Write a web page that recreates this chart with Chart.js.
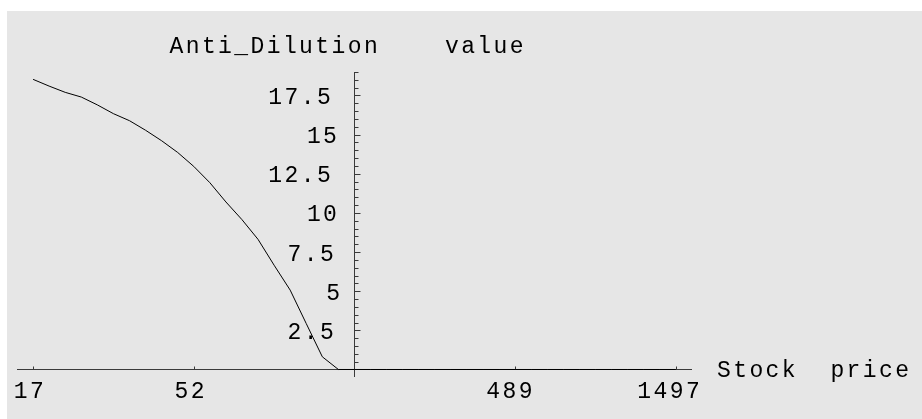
<!DOCTYPE html>
<html>
<head>
<meta charset="utf-8">
<script src="https://cdn.jsdelivr.net/npm/chart.js@4"></script>
<style>
  html, body { margin: 0; padding: 0; background: #fff; overflow: hidden; }
  canvas { display: block; }
</style>
</head>
<body>
<canvas id="c" width="922" height="419"></canvas>
<script>
// Stock price grid (log-spaced steps from 17 to 1497)
const prices = [17, 19.01, 21.27, 23.79, 26.60, 29.75, 33.28, 37.22, 41.63, 46.56,
  52.08, 58.25, 65.15, 72.86, 81.49, 91.15, 101.94, 114.02, 127.53, 142.63,
  159.53, 178.43, 199.57, 223.21, 249.65, 279.22, 312.30, 349.29, 390.67, 436.95,
  488.71, 546.59, 611.33, 683.75, 764.74, 855.33, 956.65, 1069.97, 1196.72, 1338.49,
  1497];
// Anti-dilution value at each price
const antiDilution = [18.53, 18.10, 17.70, 17.40, 16.90, 16.34, 15.89, 15.28, 14.61, 13.86,
  12.97, 11.93, 10.70, 9.57, 8.31, 6.66, 5.07, 2.93, 0.81, 0,
  0, 0, 0, 0, 0, 0, 0, 0, 0, 0,
  0, 0, 0, 0, 0, 0, 0, 0, 0, 0,
  0];

const xTickValues = [17, 52.08, 488.71, 1497];
const xTickLabels = ['17', '52', '489', '1497'];
const yTickValues = [2.5, 5, 7.5, 10, 12.5, 15, 17.5];
const yTickLabels = ['2.5', '5', '7.5', '10', '12.5', '15', '17.5'];
const yMinorStep = 0.5;
const axisCrossPrice = 159.53;   // the value axis crosses the price axis here
const xTitle = 'Stock  price';
const yTitle = 'Anti_Dilution    value';

const FONT = '23px "Liberation Mono", "Courier New", monospace';
const SPACING = '2.4px';
const CELL = 19.3;   // layout width per character used to place tick labels

const axesPlugin = {
  id: 'crossedAxes',
  beforeDraw(chart) {
    const ctx = chart.ctx;
    ctx.save();
    ctx.fillStyle = '#ffffff';
    ctx.fillRect(0, 0, chart.width, chart.height);
    ctx.fillStyle = '#e6e6e6';
    ctx.fillRect(7, 11, chart.width - 7, chart.height - 11);
    ctx.restore();
  },
  beforeDatasetsDraw(chart) {
    const { ctx, scales: { x, y } } = chart;
    const ax = Math.round(x.getPixelForValue(axisCrossPrice)) + 0.5;
    const ay = Math.round(y.getPixelForValue(0)) + 0.5;
    ctx.save();
    ctx.strokeStyle = '#3a3a3a';
    ctx.lineWidth = 1;
    ctx.beginPath();
    ctx.moveTo(x.left, ay); ctx.lineTo(x.right, ay);
    ctx.moveTo(ax, y.top); ctx.lineTo(ax, y.bottom);
    xTickValues.forEach(v => {
      const px = Math.round(x.getPixelForValue(v)) + 0.5;
      ctx.moveTo(px, ay); ctx.lineTo(px, ay - 3);
    });
    for (let i = 1; i * yMinorStep <= y.max + 1e-9; i++) {
      const v = i * yMinorStep;
      const py = Math.round(y.getPixelForValue(v)) + 0.5;
      const len = yTickValues.includes(v) ? 6 : 4;
      ctx.moveTo(ax, py); ctx.lineTo(ax + len, py);
    }
    ctx.stroke();

    ctx.fillStyle = '#000';
    ctx.font = FONT;
    ctx.letterSpacing = SPACING;
    ctx.textAlign = 'left';
    ctx.textBaseline = 'alphabetic';
    xTickLabels.forEach((t, i) => {
      const px = x.getPixelForValue(xTickValues[i]);
      ctx.fillText(t, px - t.length * CELL / 2, ay + 28.5);
    });
    yTickLabels.forEach((t, i) => {
      const py = y.getPixelForValue(yTickValues[i]);
      ctx.fillText(t, ax - 9 - t.length * CELL, py + 8.5);
    });
    ctx.fillText(yTitle, 169.5, 53);
    ctx.fillText(xTitle, x.right + 25, ay + 7);
    ctx.restore();
  }
};

new Chart(document.getElementById('c'), {
  type: 'line',
  data: {
    datasets: [{
      data: prices.map((p, i) => ({ x: p, y: antiDilution[i] })),
      borderColor: '#000',
      borderWidth: 1,
      pointRadius: 0,
      tension: 0,
      fill: false
    }]
  },
  options: {
    responsive: false,
    animation: false,
    devicePixelRatio: 1,
    layout: { padding: { left: 17, right: 230, top: 72, bottom: 42 } },
    plugins: { legend: { display: false }, tooltip: { enabled: false } },
    scales: {
      x: { type: 'logarithmic', min: 15.2, max: 1675, display: false },
      y: { type: 'linear', min: -0.48, max: 19, display: false }
    }
  },
  plugins: [axesPlugin]
});
</script>
</body>
</html>
